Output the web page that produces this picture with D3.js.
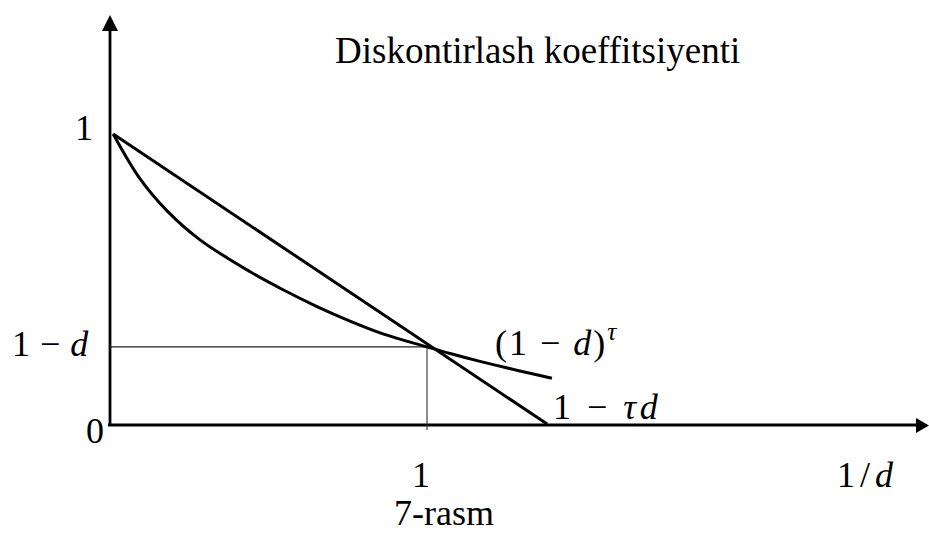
<!DOCTYPE html>
<html>
<head>
<meta charset="utf-8">
<script src="https://cdn.jsdelivr.net/npm/d3@7"></script>
<style>
  html, body { margin: 0; padding: 0; background: #fff; }
  svg { display: block; }
  text { font-family: "Liberation Serif", "Times New Roman", serif; fill: #000; }
  .math { font-family: "Liberation Serif", "DejaVu Serif", serif; }
</style>
</head>
<body>
<svg id="chart" width="929" height="533"></svg>
<script>
// Discount factor (1 - d)^tau, sampled along tau
const tauValues      = [0.01, 0.095, 0.18, 0.284, 0.442, 0.546, 0.653, 0.757, 0.861, 1.0, 1.073, 1.167, 1.293, 1.394];
const discountValues = [1.0, 0.845, 0.735, 0.635, 0.525, 0.463, 0.405, 0.355, 0.311, 0.266, 0.243, 0.216, 0.183, 0.158];

// Linear approximation 1 - tau*d
const linearTau    = [0.01, 1.379];
const linearValues = [1.0, 0.0];

// Reference level 1 - d at tau = 1
const refTau = 1;
const refLevel = 0.266;

const svg = d3.select("#chart");

const x = d3.scaleLinear().domain([0, 2.5]).range([110, 902.5]);
const y = d3.scaleLinear().domain([0, 1]).range([424, 134]);

// Axes
svg.append("line")
  .attr("x1", x(0)).attr("y1", y(0) + 1.5)
  .attr("x2", x(0)).attr("y2", 28)
  .attr("stroke", "#000").attr("stroke-width", 2.8);
svg.append("path")
  .attr("d", `M${x(0)},15 L${x(0) - 8},31 L${x(0) + 8},31 Z`)
  .attr("fill", "#000");

svg.append("line")
  .attr("x1", x(0) - 2).attr("y1", y(0) + 1)
  .attr("x2", 918).attr("y2", y(0) + 1)
  .attr("stroke", "#000").attr("stroke-width", 2.8);
svg.append("path")
  .attr("d", `M929,${y(0) + 1.5} L916,${y(0) - 6} L916,${y(0) + 9} Z`)
  .attr("fill", "#000");

// Guide lines to the point (1, 1 - d)
svg.append("line")
  .attr("x1", x(0)).attr("y1", y(refLevel))
  .attr("x2", x(refTau)).attr("y2", y(refLevel))
  .attr("stroke", "#222").attr("stroke-width", 1.1);
svg.append("line")
  .attr("x1", x(refTau)).attr("y1", y(refLevel))
  .attr("x2", x(refTau)).attr("y2", y(0) + 6)
  .attr("stroke", "#333").attr("stroke-width", 1.1);

// Curves
const lineGen = d3.line().x(d => x(d[0])).y(d => y(d[1]));
svg.append("path")
  .datum(linearTau.map((t, i) => [t, linearValues[i]]))
  .attr("d", lineGen)
  .attr("fill", "none").attr("stroke", "#000").attr("stroke-width", 3);

svg.append("path")
  .datum(tauValues.map((t, i) => [t, discountValues[i]]))
  .attr("d", d3.line().x(d => x(d[0])).y(d => y(d[1])).curve(d3.curveCatmullRom.alpha(0.5)))
  .attr("fill", "none").attr("stroke", "#000").attr("stroke-width", 3);

// Title
svg.append("text")
  .attr("x", 335).attr("y", 63)
  .attr("font-size", 37)
  .text("Diskontirlash koeffitsiyenti");

// Axis values
svg.append("text").attr("x", x(0) - 17).attr("y", y(1) + 6)
  .attr("text-anchor", "end").attr("font-size", 36).text("1");
svg.append("text").attr("x", x(0) - 6).attr("y", y(0) + 19)
  .attr("text-anchor", "end").attr("font-size", 36).text("0");
svg.append("text").attr("x", x(refTau) - 6).attr("y", 487)
  .attr("text-anchor", "middle").attr("font-size", 36).text("1");
svg.append("text").attr("x", 444).attr("y", 525)
  .attr("text-anchor", "middle").attr("font-size", 36).text("7-rasm");

// Math labels
function mathLabel(px, py, parts, size, spacing) {
  const t = svg.append("text").attr("class", "math")
    .attr("x", px).attr("y", py).attr("font-size", size)
    .attr("letter-spacing", spacing);
  parts.forEach(p => {
    const s = t.append("tspan").text(p.t);
    if (p.i) s.attr("font-style", "italic");
    if (p.sup) s.attr("dy", -15).attr("font-size", size * 0.7);
  });
  return t;
}

mathLabel(12, y(refLevel) + 9, [{t: "1 − "}, {t: "d", i: true}], 36, 0.5);
mathLabel(495, 355, [{t: "(1 − "}, {t: "d", i: true}, {t: ")"}, {t: "τ", i: true, sup: true}], 36, 2);
mathLabel(553, 419, [{t: "1 − "}, {t: "τd", i: true}], 36, 3.5);
mathLabel(837, 487, [{t: "1/"}, {t: "d", i: true}], 36, 5);
</script>
</body>
</html>
